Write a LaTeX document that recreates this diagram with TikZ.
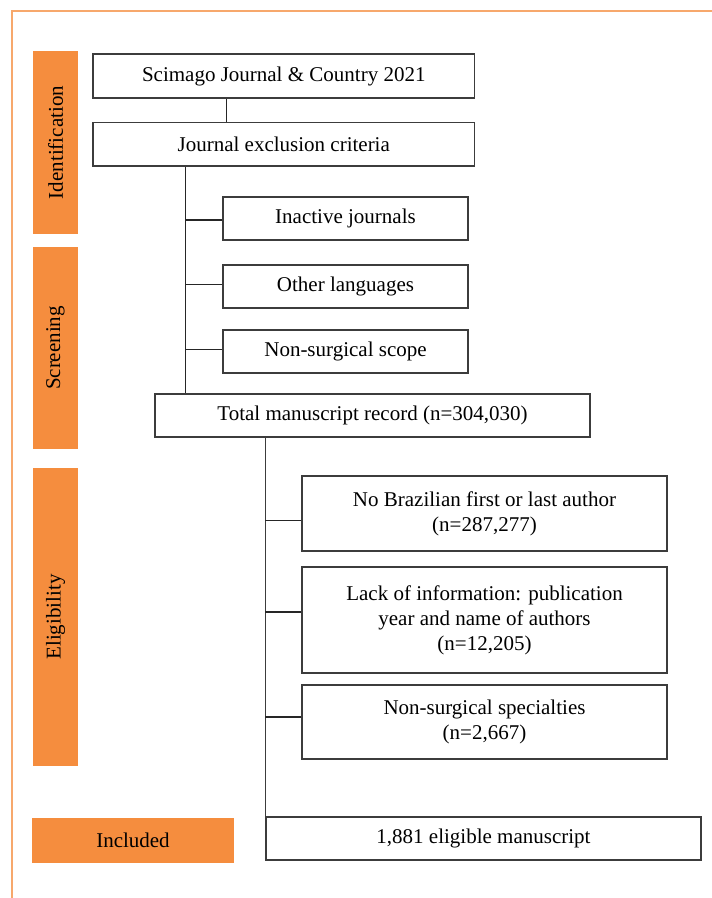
\documentclass[tikz,border=0pt]{standalone}
\usepackage{fontspec}
\setmainfont{Liberation Serif}
\definecolor{barorange}{RGB}{245,141,62}
\definecolor{frameorange}{RGB}{247,168,108}
\definecolor{boxline}{RGB}{60,60,60}
\begin{document}
\begin{tikzpicture}[x=1pt,y=-1pt,
  every node/.style={font=\fontsize{21}{25}\selectfont, text=black},
  flowbox/.style={draw=boxline, line width=1.4pt, fill=white, rectangle, inner sep=0pt, align=center},
  sidebar/.style={fill=barorange, draw=none, rectangle, inner sep=0pt, align=center},
  conn/.style={draw=black!85, line width=1.3pt},
  trunk/.style={draw=boxline, line width=1.6pt},
  frame/.style={draw=frameorange, line width=2pt}
]
\useasboundingbox (0,0) rectangle (712,898);
\fill[white] (0,0) rectangle (712,898);
\draw[frame] (712,10.5) -- (11.5,10.5) -- (11.5,898);

% side bars
\node[sidebar, minimum width=183pt, minimum height=45pt, rotate=90] (idb) at (55.5,142.5) {Identification};
\node[sidebar, minimum width=202pt, minimum height=45pt, rotate=90] (scb) at (55.5,348) {Screening};
\node[sidebar, minimum width=298pt, minimum height=45pt, rotate=90] (elb) at (55.5,617) {Eligibility};
\node[sidebar, minimum width=202pt, minimum height=45pt] (inb) at (133,840.5) {Included};

% boxes
\node[flowbox, minimum width=381.5pt, minimum height=44pt] (scim) at (283.75,76) {Scimago Journal \& Country 2021};
\node[flowbox, minimum width=381.5pt, minimum height=43.5pt] (jexc) at (283.75,144.25) {Journal exclusion criteria};
\node[flowbox, minimum width=245pt, minimum height=43pt] (inact) at (345.5,218.5) {Inactive journals};
\node[flowbox, minimum width=245pt, minimum height=43pt] (other) at (345.5,286.5) {Other languages};
\node[flowbox, minimum width=245pt, minimum height=43pt] (nsurg) at (345.5,351.5) {Non-surgical scope};
\node[flowbox, minimum width=435pt, minimum height=43pt] (total) at (372.5,415.5) {Total manuscript record (n=304,030)};
\node[flowbox, minimum width=365pt, minimum height=75pt] (nobr) at (484.5,513.5) {No Brazilian first or last author\\(n=287,277)};
\node[flowbox, minimum width=365pt, minimum height=106pt] (lack) at (484.5,620) {Lack of information: publication\\year and name of authors\\(n=12,205)};
\node[flowbox, minimum width=365pt, minimum height=74pt] (nssp) at (484.5,722) {Non-surgical specialties\\(n=2,667)};
\node[flowbox, minimum width=435pt, minimum height=43pt] (elig) at (483.5,838.5) {1,881 eligible manuscript};

% connectors
\draw[conn] ([xshift=134pt]scim.south west) -- ([xshift=134pt]jexc.north west);
\coordinate (t1) at ([xshift=93pt]jexc.south west);
\draw[conn] (t1) -- (t1 |- total.north);
\draw[conn] ([yshift=-1.5pt]inact.west) -- ([yshift=-1.5pt]t1 |- inact.west);
\draw[conn] ([yshift=2pt]other.west) -- ([yshift=2pt]t1 |- other.west);
\draw[conn] ([yshift=2pt]nsurg.west) -- ([yshift=2pt]t1 |- nsurg.west);

\coordinate (t2) at ([xshift=111pt]total.south west);
\draw[trunk] (t2) -- (elig.north west);
\draw[conn] ([yshift=-7pt]nobr.west) -- ([yshift=-7pt]t2 |- nobr.west);
\draw[conn] ([yshift=8pt]lack.west) -- ([yshift=8pt]t2 |- lack.west);
\draw[conn] ([yshift=5pt]nssp.west) -- ([yshift=5pt]t2 |- nssp.west);
\end{tikzpicture}
\end{document}
